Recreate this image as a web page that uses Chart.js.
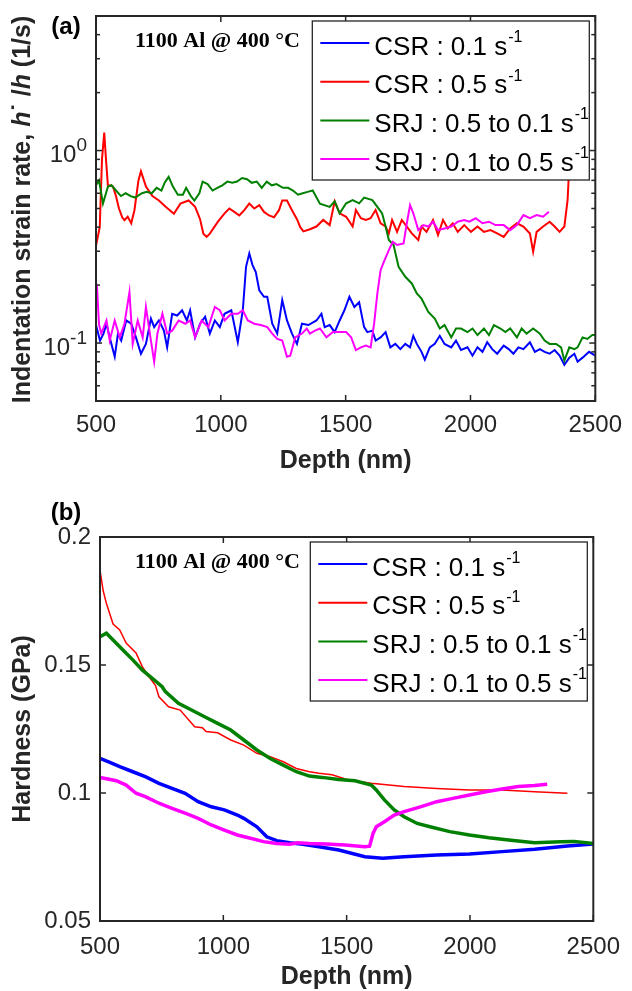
<!DOCTYPE html>
<html><head><meta charset="utf-8">
<script src="https://cdn.jsdelivr.net/npm/chart.js"></script>
<style>
html,body{margin:0;padding:0;overflow:hidden;background:#fff;width:632px;height:991px;}
#wa{position:absolute;left:0;top:0;width:632px;height:480px;}
#wb{position:absolute;left:0;top:480px;width:632px;height:520px;}
canvas{display:block;}
</style></head><body>
<div id="wa"><canvas id="ca" width="632" height="480" style="width:632px;height:480px"></canvas></div>
<div id="wb"><canvas id="cb" width="632" height="520" style="width:632px;height:520px"></canvas></div>
<script>
// ---------- categories / labels ----------
const seriesNames = ['CSR : 0.1 s', 'CSR : 0.5 s', 'SRJ : 0.5 to 0.1 s', 'SRJ : 0.1 to 0.5 s'];
const seriesSup = '-1';
const annotationText = '1100 Al @ 400 \u00B0C';
const xTicks = [500, 1000, 1500, 2000, 2500];
const xTickLabels = ['500', '1000', '1500', '2000', '2500'];
const rateMajorTicks = [0.1, 1];
const rateTickExponents = ['-1', '0'];
const rateMinorTicks = [0.06, 0.07, 0.08, 0.09, 0.2, 0.3, 0.4, 0.5, 0.6, 0.7, 0.8, 0.9, 2, 3, 4];
const hardTicks = [0.05, 0.1, 0.15, 0.2];
const hardTickLabels = ['0.05', '0.1', '0.15', '0.2'];

// ---------- (a) strain rate (1/s) vs depth (nm) ----------
const rateDepthCsr01 = [500,516,530,542,555,575,588,601,621,641,660,680,700,720,733,752,772,785,805,825,845,864,877,897,917,937,956,976,996,1015,1042,1068,1088,1101,1114,1127,1140,1154,1173,1186,1206,1226,1246,1265,1285,1305,1325,1351,1383,1403,1416,1436,1456,1476,1495,1515,1535,1554,1574,1587,1607,1620,1640,1660,1679,1699,1719,1739,1758,1771,1785,1804,1817,1837,1857,1877,1896,1923,1942,1962,1988,2008,2028,2048,2067,2087,2107,2133,2153,2172,2192,2212,2238,2258,2278,2297,2317,2337,2357,2376,2396,2416,2429,2449,2475,2500];
const rateCsr01 = [0.124,0.103,0.112,0.126,0.107,0.085,0.112,0.103,0.131,0.126,0.107,0.088,0.099,0.134,0.121,0.131,0.116,0.095,0.142,0.139,0.148,0.131,0.148,0.107,0.126,0.137,0.112,0.131,0.121,0.142,0.148,0.101,0.148,0.249,0.292,0.254,0.234,0.188,0.174,0.174,0.126,0.112,0.167,0.131,0.112,0.099,0.126,0.124,0.131,0.142,0.121,0.124,0.114,0.131,0.148,0.174,0.154,0.163,0.121,0.114,0.116,0.103,0.107,0.114,0.095,0.099,0.093,0.099,0.095,0.109,0.099,0.090,0.082,0.095,0.099,0.109,0.099,0.095,0.103,0.092,0.095,0.086,0.095,0.090,0.101,0.093,0.088,0.097,0.093,0.088,0.095,0.093,0.101,0.090,0.093,0.090,0.088,0.092,0.086,0.077,0.084,0.088,0.080,0.084,0.090,0.086];

const rateDepthCsr05 = [500,515,524,533,540,548,556,568,580,592,605,614,627,641,654,670,680,700,726,752,779,812,838,871,897,917,930,943,956,970,990,1015,1034,1054,1074,1094,1114,1134,1154,1173,1193,1213,1233,1246,1265,1285,1305,1318,1331,1357,1383,1410,1436,1456,1476,1502,1528,1541,1561,1581,1600,1620,1640,1660,1673,1686,1706,1725,1745,1765,1791,1804,1824,1850,1870,1890,1909,1929,1949,1975,2002,2028,2054,2080,2107,2133,2159,2186,2212,2238,2251,2265,2291,2317,2337,2357,2376,2389,2396];
const rateCsr05 = [0.32,0.40,0.90,1.24,0.90,0.65,0.66,0.65,0.58,0.50,0.45,0.435,0.453,0.419,0.49,0.70,0.78,0.65,0.58,0.55,0.51,0.47,0.53,0.55,0.51,0.44,0.37,0.356,0.37,0.394,0.43,0.472,0.50,0.48,0.46,0.49,0.53,0.50,0.52,0.48,0.46,0.45,0.49,0.55,0.55,0.49,0.44,0.40,0.38,0.39,0.403,0.436,0.41,0.545,0.472,0.453,0.403,0.491,0.445,0.436,0.445,0.491,0.419,0.403,0.371,0.436,0.378,0.436,0.403,0.371,0.343,0.403,0.378,0.436,0.364,0.436,0.394,0.419,0.378,0.41,0.378,0.403,0.378,0.386,0.371,0.356,0.394,0.419,0.403,0.371,0.298,0.378,0.403,0.427,0.403,0.378,0.403,0.553,0.85];

const rateDepthSrj0501 = [500,512,528,540,548,562,580,600,619,639,657,684,703,723,743,762,775,791,808,828,848,861,880,894,914,927,947,967,986,1006,1026,1046,1065,1085,1105,1124,1144,1164,1184,1204,1223,1249,1269,1289,1309,1328,1348,1368,1397,1436,1456,1476,1502,1528,1554,1574,1607,1627,1646,1660,1673,1692,1712,1739,1765,1785,1804,1831,1857,1877,1896,1923,1942,1962,1988,2008,2028,2054,2074,2094,2120,2140,2159,2186,2205,2225,2251,2278,2297,2317,2343,2363,2376,2396,2416,2429,2449,2468,2488,2500];
const rateSrj0501 = [0.66,0.70,0.53,0.60,0.65,0.66,0.62,0.58,0.60,0.58,0.57,0.60,0.61,0.60,0.64,0.62,0.68,0.73,0.65,0.59,0.59,0.64,0.58,0.55,0.60,0.69,0.67,0.62,0.64,0.66,0.69,0.68,0.69,0.72,0.71,0.68,0.69,0.64,0.69,0.66,0.67,0.64,0.64,0.62,0.59,0.60,0.61,0.62,0.53,0.51,0.545,0.472,0.532,0.553,0.532,0.57,0.553,0.51,0.472,0.403,0.343,0.323,0.249,0.221,0.204,0.181,0.170,0.145,0.134,0.119,0.124,0.107,0.119,0.119,0.114,0.119,0.110,0.119,0.110,0.124,0.119,0.114,0.119,0.107,0.119,0.112,0.119,0.112,0.103,0.099,0.099,0.095,0.081,0.095,0.093,0.095,0.107,0.105,0.110,0.110];

const rateDepthSrj0105 = [500,505,512,521,542,555,575,595,614,634,647,667,687,700,720,733,746,766,785,805,831,858,877,897,923,950,976,996,1015,1042,1068,1088,1108,1134,1160,1186,1206,1226,1246,1265,1278,1298,1325,1344,1357,1377,1397,1423,1449,1476,1502,1522,1541,1561,1581,1600,1614,1627,1640,1653,1673,1689,1706,1732,1745,1758,1771,1791,1811,1831,1850,1870,1896,1923,1949,1975,1995,2021,2048,2074,2100,2133,2159,2186,2212,2238,2265,2291,2314];
const rateSrj0105 = [0.17,0.185,0.125,0.112,0.131,0.103,0.131,0.107,0.126,0.184,0.099,0.131,0.107,0.154,0.103,0.080,0.112,0.142,0.112,0.116,0.131,0.126,0.131,0.107,0.131,0.121,0.154,0.148,0.131,0.142,0.142,0.148,0.131,0.126,0.124,0.121,0.112,0.105,0.103,0.085,0.086,0.107,0.112,0.119,0.112,0.116,0.119,0.107,0.114,0.114,0.114,0.107,0.092,0.095,0.097,0.095,0.126,0.181,0.239,0.264,0.304,0.336,0.323,0.329,0.419,0.521,0.472,0.386,0.41,0.403,0.427,0.386,0.394,0.403,0.427,0.436,0.427,0.445,0.419,0.427,0.41,0.41,0.386,0.41,0.462,0.445,0.462,0.453,0.481];

// ---------- (b) hardness (GPa) vs depth (nm) ----------
const hardDepthCsr01 = [500,540,580,633,686,739,792,845,898,951,1004,1057,1083,1136,1176,1216,1269,1322,1375,1468,1574,1646,1733,1865,1998,2130,2262,2395,2500];
const hardCsr01 = [0.1135,0.112,0.1103,0.1083,0.1063,0.1038,0.1018,0.0999,0.0966,0.0946,0.0934,0.0914,0.0901,0.0868,0.0829,0.0814,0.0806,0.0800,0.0792,0.0777,0.0751,0.0745,0.0751,0.0758,0.0762,0.0771,0.0780,0.0793,0.0801];

const hardDepthCsr05 = [500,513,526,553,580,606,646,672,699,725,739,778,825,884,915,930,977,1030,1083,1136,1190,1243,1296,1349,1388,1441,1507,1600,1733,1865,1998,2130,2262,2395];
const hardCsr05 = [0.187,0.179,0.174,0.166,0.1637,0.1586,0.1547,0.1493,0.1454,0.142,0.1376,0.1337,0.1324,0.1259,0.1255,0.124,0.1235,0.1207,0.1187,0.1155,0.1142,0.1122,0.1096,0.1083,0.1077,0.1071,0.1051,0.1038,0.1025,0.1018,0.1012,0.1012,0.1005,0.0999];

const hardDepthSrj0501 = [500,526,553,593,633,672,712,752,765,818,871,924,977,1030,1083,1136,1190,1243,1296,1349,1401,1468,1534,1600,1620,1653,1693,1733,1786,1838,1918,1998,2077,2157,2262,2369,2422,2500];
const hardSrj0501 = [0.161,0.1624,0.1598,0.1559,0.152,0.148,0.1448,0.1415,0.1396,0.135,0.1324,0.1298,0.1272,0.1246,0.1207,0.1168,0.1135,0.1109,0.1083,0.1066,0.1061,0.1053,0.1048,0.1031,0.1012,0.0973,0.0934,0.0907,0.0881,0.0868,0.0849,0.0836,0.0825,0.0816,0.0806,0.0810,0.0811,0.0803];

const hardDepthSrj0105 = [500,566,606,646,686,739,792,845,898,951,1004,1057,1110,1163,1216,1269,1302,1349,1415,1494,1574,1593,1607,1620,1653,1693,1733,1799,1865,1931,1998,2064,2130,2196,2262,2313];
const hardSrj0105 = [0.1061,0.1048,0.1031,0.0999,0.0985,0.096,0.094,0.0921,0.0901,0.0875,0.0855,0.0836,0.0823,0.081,0.0803,0.0800,0.0806,0.0803,0.0801,0.0797,0.079,0.0792,0.0842,0.0868,0.0888,0.0914,0.0927,0.0946,0.0966,0.0979,0.0992,0.1005,0.1016,0.1025,0.1029,0.1034];

// ---------- styles ----------
const FONT = '"Liberation Sans", Arial, Helvetica, sans-serif';
const SERIF = '"Liberation Serif", "Times New Roman", serif';
const AXIS = '#262626';
const seriesColors = ['#0000FF', '#FF0000', '#008000', '#FF00FF'];
const drawOrder = [4, 3, 2, 1];

Chart.defaults.font.family = FONT;
Chart.defaults.color = AXIS;

function pairs(xs, ys) { return xs.map((x, i) => ({ x: x, y: ys[i] })); }

function seg(ctx, x1, y1, x2, y2) { ctx.beginPath(); ctx.moveTo(x1, y1); ctx.lineTo(x2, y2); ctx.stroke(); }

function makeOverlay(spec) {
  return {
    id: 'overlay',
    afterDatasetsDraw(chart) {
      const ctx = chart.ctx, a = chart.chartArea, xs = chart.scales.x, ys = chart.scales.y;
      ctx.save();
      ctx.strokeStyle = AXIS; ctx.lineWidth = 1.5; ctx.lineCap = 'butt';
      xTicks.forEach(v => { const p = xs.getPixelForValue(v); seg(ctx, p, a.bottom, p, a.bottom - 6); seg(ctx, p, a.top, p, a.top + 6); });
      spec.yMajor.forEach(v => { const p = ys.getPixelForValue(v); seg(ctx, a.left, p, a.left + 6, p); seg(ctx, a.right, p, a.right - 6, p); });
      (spec.yMinor || []).forEach(v => { const p = ys.getPixelForValue(v); seg(ctx, a.left, p, a.left + 4, p); seg(ctx, a.right, p, a.right - 4, p); });
      ctx.lineWidth = 2;
      ctx.strokeRect(a.left, a.top, a.right - a.left, a.bottom - a.top);
      // annotation
      ctx.fillStyle = '#000'; ctx.font = 'bold 22px ' + SERIF; ctx.textBaseline = 'middle'; ctx.textAlign = 'left';
      ctx.fillText(annotationText, 135, a.top + 25);
      // legend
      const L = a.right - 283, T = a.top + 5, W = 277, H = 159;
      ctx.fillStyle = '#fff'; ctx.fillRect(L, T, W, H);
      ctx.lineWidth = 1.3; ctx.strokeStyle = AXIS; ctx.strokeRect(L, T, W, H);
      seriesNames.forEach((name, i) => {
        const ly = T + 22 + i * 38.7;
        ctx.strokeStyle = seriesColors[i]; ctx.lineWidth = 2; seg(ctx, L + 8, ly, L + 57, ly);
        ctx.fillStyle = '#000'; ctx.font = '26px ' + FONT; ctx.textAlign = 'left'; ctx.textBaseline = 'middle';
        ctx.fillText(name, L + 62, ly + 4.5);
        const w = ctx.measureText(name).width;
        ctx.font = '16px ' + FONT; ctx.fillText(seriesSup, L + 62 + w + 1, ly - 5.5);
      });
      ctx.restore();
    },
    afterDraw(chart) {
      const ctx = chart.ctx, a = chart.chartArea, ys = chart.scales.y;
      ctx.save();
      ctx.fillStyle = '#000'; ctx.textBaseline = 'middle';
      ctx.font = 'bold 24px ' + FONT; ctx.textAlign = 'center';
      ctx.fillText(spec.panel, 66, spec.panelY);
      if (spec.logLabels) {
        ctx.fillStyle = AXIS; ctx.textAlign = 'left';
        rateMajorTicks.forEach((v, i) => {
          const p = ys.getPixelForValue(v);
          const e = rateTickExponents[i];
          ctx.font = '19px ' + FONT; const ew = ctx.measureText(e).width;
          ctx.font = '24px ' + FONT; const bw = ctx.measureText('10').width;
          const right = a.left - 9;
          ctx.fillText('10', right - ew - bw, p + 5);
          ctx.font = '19px ' + FONT; ctx.fillText(e, right - ew, p - 4.5);
        });
      }
      if (spec.richTitle) {
        const segs = spec.richTitle;
        ctx.save();
        ctx.translate(23, (a.top + a.bottom) / 2 + 1);
        ctx.rotate(-Math.PI / 2);
        ctx.fillStyle = AXIS; ctx.textAlign = 'left'; ctx.textBaseline = 'middle';
        let total = 0;
        segs.forEach(s => { ctx.font = (s.it ? 'italic ' : '') + 'bold 25px ' + FONT; s.w = ctx.measureText(s.t).width; total += s.w; });
        let x = -total / 2;
        segs.forEach(s => { ctx.font = (s.it ? 'italic ' : '') + 'bold 25px ' + FONT; ctx.fillText(s.t, x, 0); x += s.w; });
        ctx.restore();
      }
      ctx.restore();
    }
  };
}

function buildDatasets(list, widths) {
  return list.map((d, i) => ({
    label: seriesNames[i] + '\u207B\u00B9',
    data: pairs(d[0], d[1]),
    borderColor: seriesColors[i],
    backgroundColor: seriesColors[i],
    borderWidth: widths[i],
    pointRadius: 0,
    tension: 0,
    fill: false,
    order: drawOrder[i]
  }));
}

function xScale(pb, pad) {
  return {
    type: 'linear', min: 500, max: 2500,
    afterBuildTicks: s => { s.ticks = xTicks.map(v => ({ value: v })); },
    afterFit: s => { s.height = 79; },
    grid: { display: false, drawTicks: false },
    border: { display: false },
    ticks: { font: { size: 24 }, color: AXIS, padding: pad, maxRotation: 0, autoSkip: false,
      callback: (v, i) => xTickLabels[i] },
    title: { display: true, text: 'Depth (nm)', font: { size: 25, weight: 'bold' }, color: AXIS, padding: { top: 0, bottom: pb } }
  };
}

// ---------- chart (a) ----------
new Chart(document.getElementById('ca'), {
  type: 'line',
  data: { datasets: buildDatasets([
    [rateDepthCsr01, rateCsr01], [rateDepthCsr05, rateCsr05],
    [rateDepthSrj0501, rateSrj0501], [rateDepthSrj0105, rateSrj0105]], [2, 2, 2, 2]) },
  options: {
    responsive: false, animation: false, events: [],
    layout: { padding: { top: 16, right: 29, bottom: 0, left: 0 } },
    plugins: { legend: { display: false }, tooltip: { enabled: false } },
    scales: {
      x: xScale(4, 10),
      y: {
        type: 'logarithmic', min: 0.05, max: 5,
        afterFit: s => { s.width = 96; },
        grid: { display: false, drawTicks: false }, border: { display: false },
        ticks: { display: false }
      }
    }
  },
  plugins: [makeOverlay({
    yMajor: rateMajorTicks, yMinor: rateMinorTicks, panel: '(a)', panelY: 27, logLabels: true,
    richTitle: [
      { t: 'Indentation strain rate, ' }, { t: 'h', it: true }, { t: '\u02D9' }, { t: ' /' }, { t: 'h', it: true }, { t: ' (1/s)' }
    ]
  })]
});

// ---------- chart (b) ----------
new Chart(document.getElementById('cb'), {
  type: 'line',
  data: { datasets: buildDatasets([
    [hardDepthCsr01, hardCsr01], [hardDepthCsr05, hardCsr05],
    [hardDepthSrj0501, hardSrj0501], [hardDepthSrj0105, hardSrj0105]], [3.5, 1.5, 3.5, 3.5]) },
  options: {
    responsive: false, animation: false, events: [],
    layout: { padding: { top: 57, right: 29, bottom: 0, left: 0 } },
    plugins: { legend: { display: false }, tooltip: { enabled: false } },
    scales: {
      x: xScale(8, 12),
      y: {
        type: 'linear', min: 0.05, max: 0.2,
        afterBuildTicks: s => { s.ticks = hardTicks.map(v => ({ value: v })); },
        afterFit: s => { s.width = 100; },
        grid: { display: false, drawTicks: false }, border: { display: false },
        ticks: { font: { size: 24 }, color: AXIS, padding: 9, callback: (v, i) => hardTickLabels[i] },
        title: { display: true, text: 'Hardness (GPa)', font: { size: 25, weight: 'bold' }, color: AXIS, padding: { top: 8, bottom: 0 } }
      }
    }
  },
  plugins: [makeOverlay({ yMajor: hardTicks, panel: '(b)', panelY: 33, logLabels: false })]
});
</script>
</body></html>
